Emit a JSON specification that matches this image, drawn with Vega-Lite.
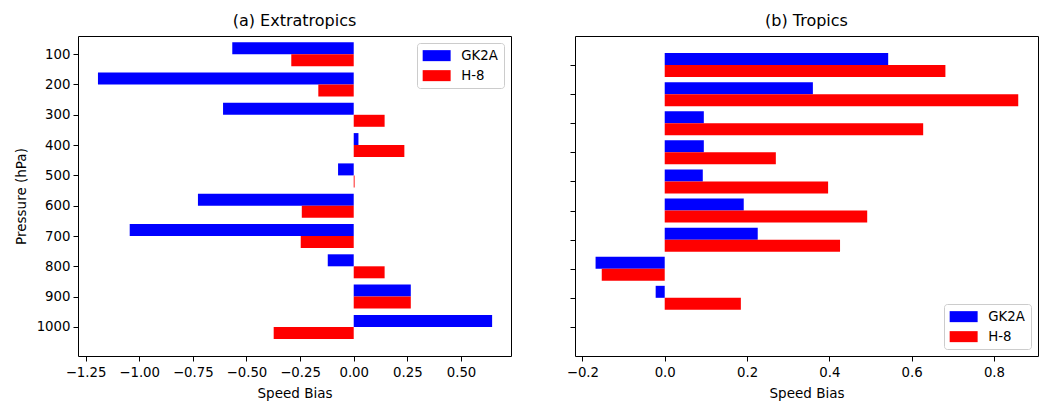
{
  "$schema": "https://vega.github.io/schema/vega-lite/v6.json",
  "background": "white",
  "padding": {"left": 13, "top": 12, "right": 4, "bottom": 0},
  "datasets": {
    "extra": [
      {"Pressure": 100, "Series": "GK2A", "Bias": -0.566},
      {"Pressure": 100, "Series": "H-8", "Bias": -0.291},
      {"Pressure": 200, "Series": "GK2A", "Bias": -1.192},
      {"Pressure": 200, "Series": "H-8", "Bias": -0.165},
      {"Pressure": 300, "Series": "GK2A", "Bias": -0.609},
      {"Pressure": 300, "Series": "H-8", "Bias": 0.144},
      {"Pressure": 400, "Series": "GK2A", "Bias": 0.022},
      {"Pressure": 400, "Series": "H-8", "Bias": 0.236},
      {"Pressure": 500, "Series": "GK2A", "Bias": -0.073},
      {"Pressure": 500, "Series": "H-8", "Bias": 0.004},
      {"Pressure": 600, "Series": "GK2A", "Bias": -0.726},
      {"Pressure": 600, "Series": "H-8", "Bias": -0.242},
      {"Pressure": 700, "Series": "GK2A", "Bias": -1.044},
      {"Pressure": 700, "Series": "H-8", "Bias": -0.247},
      {"Pressure": 800, "Series": "GK2A", "Bias": -0.121},
      {"Pressure": 800, "Series": "H-8", "Bias": 0.144},
      {"Pressure": 900, "Series": "GK2A", "Bias": 0.266},
      {"Pressure": 900, "Series": "H-8", "Bias": 0.266},
      {"Pressure": 1000, "Series": "GK2A", "Bias": 0.645},
      {"Pressure": 1000, "Series": "H-8", "Bias": -0.373}
    ],
    "trop": [
      {"Pressure": 100, "Series": "GK2A", "Bias": 0.543},
      {"Pressure": 100, "Series": "H-8", "Bias": 0.682},
      {"Pressure": 200, "Series": "GK2A", "Bias": 0.360},
      {"Pressure": 200, "Series": "H-8", "Bias": 0.859},
      {"Pressure": 300, "Series": "GK2A", "Bias": 0.095},
      {"Pressure": 300, "Series": "H-8", "Bias": 0.628},
      {"Pressure": 400, "Series": "GK2A", "Bias": 0.095},
      {"Pressure": 400, "Series": "H-8", "Bias": 0.270},
      {"Pressure": 500, "Series": "GK2A", "Bias": 0.0925},
      {"Pressure": 500, "Series": "H-8", "Bias": 0.397},
      {"Pressure": 600, "Series": "GK2A", "Bias": 0.192},
      {"Pressure": 600, "Series": "H-8", "Bias": 0.492},
      {"Pressure": 700, "Series": "GK2A", "Bias": 0.226},
      {"Pressure": 700, "Series": "H-8", "Bias": 0.426},
      {"Pressure": 800, "Series": "GK2A", "Bias": -0.168},
      {"Pressure": 800, "Series": "H-8", "Bias": -0.153},
      {"Pressure": 900, "Series": "GK2A", "Bias": -0.022},
      {"Pressure": 900, "Series": "H-8", "Bias": 0.185}
    ]
  },
  "config": {
    "font": "DejaVu Sans",
    "view": {"stroke": "#000000", "strokeWidth": 1},
    "axis": {
      "grid": false, "domain": false, "tickColor": "#000000", "tickSize": 5, "tickWidth": 1,
      "labelFont": "DejaVu Sans", "labelFontSize": 13.3, "labelColor": "#000000", "labelPadding": 3,
      "titleFont": "DejaVu Sans", "titleFontSize": 13.5, "titleFontWeight": "normal", "titleColor": "#000000"
    },
    "title": {"font": "DejaVu Sans", "fontSize": 16, "fontWeight": "normal", "color": "#000000", "offset": 7},
    "legend": {
      "symbolType": "M-2.33,-0.917H2.33V0.917H-2.33Z", "symbolSize": 144, "symbolStrokeWidth": 0,
      "symbolOffset": 7,
      "labelFont": "DejaVu Sans", "labelFontSize": 13.3, "labelColor": "#000000", "labelOffset": 18,
      "padding": 6, "rowPadding": 6, "strokeColor": "#cccccc", "fillColor": "rgba(255,255,255,0.8)",
      "cornerRadius": 3, "offset": 7
    }
  },
  "spacing": 53,
  "resolve": {"scale": {"color": "independent"}, "legend": {"color": "independent"}},
  "hconcat": [
    {
      "width": 433, "height": 320,
      "title": "(a) Extratropics",
      "data": {"name": "extra"},
      "encoding": {
        "y": {"field": "Pressure", "type": "quantitative",
          "scale": {"domain": [40, 1096], "reverse": true, "nice": false, "zero": false, "padding": 0},
          "axis": {"values": [100, 200, 300, 400, 500, 600, 700, 800, 900, 1000], "format": "d", "title": "Pressure (hPa)", "titlePadding": 8}},
        "x": {"field": "Bias", "type": "quantitative", "stack": null,
          "scale": {"domain": [-1.285, 0.733], "nice": false, "zero": false, "padding": 0},
          "axis": {"values": [-1.25, -1.0, -0.75, -0.5, -0.25, 0, 0.25, 0.5], "format": ".2f", "title": "Speed Bias", "labelPadding": 4, "titlePadding": 8}},
        "color": {"field": "Series", "type": "nominal",
          "scale": {"domain": ["GK2A", "H-8"], "range": ["#0000ff", "#ff0000"]},
          "legend": {"title": null, "orient": "top-right"}}
      },
      "layer": [
        {"transform": [{"filter": "datum.Series === 'GK2A'"}], "mark": {"type": "bar", "orient": "horizontal", "height": 12, "yOffset": -6}},
        {"transform": [{"filter": "datum.Series === 'H-8'"}], "mark": {"type": "bar", "orient": "horizontal", "height": 12, "yOffset": 6}}
      ]
    },
    {
      "width": 463, "height": 320,
      "title": "(b) Tropics",
      "data": {"name": "trop"},
      "encoding": {
        "y": {"field": "Pressure", "type": "quantitative",
          "scale": {"domain": [0, 1100], "reverse": true, "nice": false, "zero": false, "padding": 0},
          "axis": {"values": [100, 200, 300, 400, 500, 600, 700, 800, 900, 1000], "labels": false, "title": null}},
        "x": {"field": "Bias", "type": "quantitative", "stack": null,
          "scale": {"domain": [-0.218, 0.907], "nice": false, "zero": false, "padding": 0},
          "axis": {"values": [-0.2, 0, 0.2, 0.4, 0.6, 0.8], "format": ".1f", "title": "Speed Bias", "labelPadding": 4, "titlePadding": 8}},
        "color": {"field": "Series", "type": "nominal",
          "scale": {"domain": ["GK2A", "H-8"], "range": ["#0000ff", "#ff0000"]},
          "legend": {"title": null, "orient": "bottom-right"}}
      },
      "layer": [
        {"transform": [{"filter": "datum.Series === 'GK2A'"}], "mark": {"type": "bar", "orient": "horizontal", "height": 12, "yOffset": -6}},
        {"transform": [{"filter": "datum.Series === 'H-8'"}], "mark": {"type": "bar", "orient": "horizontal", "height": 12, "yOffset": 6}}
      ]
    }
  ]
}
